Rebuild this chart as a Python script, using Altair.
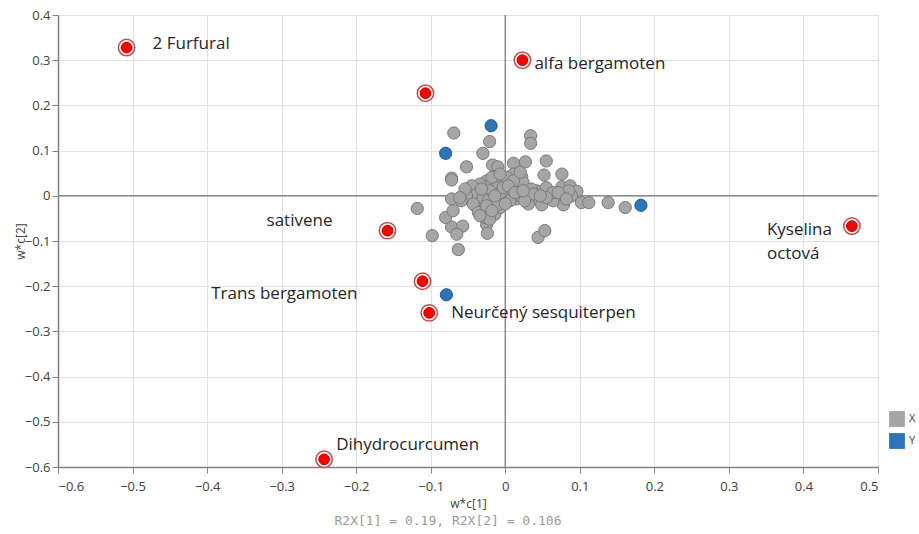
import altair as alt
import pandas as pd

# Loading-weight coordinates w*c[1], w*c[2] of the X variables (grey)
x_var_c1 = [-0.069, 0.034, 0.034, -0.021, -0.030, -0.052, -0.072, -0.017, -0.010, 0.011,
            0.027, 0.055, 0.052, 0.076, 0.011, 0.022, 0.076, 0.087, 0.096, 0.089,
            0.073, 0.078, 0.064, 0.102, 0.112, 0.138, 0.161, -0.118, -0.098, -0.063,
            -0.072, -0.057, -0.065, -0.080, -0.070, -0.072, -0.048, -0.038, -0.025, -0.024,
            -0.014, 0.044, 0.053, 0.040, 0.049, 0.031, 0.042, 0.006, -0.003, -0.012,
            -0.025, -0.034, -0.045, -0.038, -0.021, -0.007, 0.015, 0.024, 0.035, 0.055,
            0.064, 0.015, -0.016, -0.007, -0.030, -0.052, -0.059, -0.030, 0.002, 0.011,
            -0.027, -0.021, 0.038, 0.055, 0.006, 0.020, 0.026, -0.032, -0.023, -0.012,
            -0.003, 0.004, 0.013, -0.014, 0.000, -0.043, -0.054, 0.024, 0.047, 0.085,
            0.071, 0.082, -0.012, -0.018, -0.007, 0.020, -0.061, -0.036, -0.025, -0.034,
            -0.018, -0.072]
x_var_c2 = [0.139, 0.133, 0.116, 0.120, 0.094, 0.064, 0.039, 0.068, 0.064, 0.072,
            0.075, 0.077, 0.046, 0.048, 0.048, 0.042, 0.020, 0.022, 0.010, 0.000,
            -0.004, -0.020, -0.011, -0.015, -0.015, -0.015, -0.026, -0.028, -0.088, -0.119,
            -0.069, -0.067, -0.085, -0.048, -0.033, -0.007, -0.007, -0.026, -0.064, -0.083,
            -0.041, -0.092, -0.077, -0.007, -0.020, -0.018, 0.011, 0.004, -0.004, 0.026,
            0.033, 0.026, 0.022, 0.004, 0.011, 0.007, 0.018, 0.029, 0.015, 0.018,
            0.007, -0.007, -0.018, -0.026, -0.033, 0.000, -0.011, -0.004, 0.041, 0.033,
            -0.048, -0.052, 0.004, -0.004, -0.011, 0.000, -0.011, 0.015, -0.011, -0.022,
            0.018, 0.022, 0.007, 0.000, -0.018, -0.018, 0.015, 0.011, 0.000, 0.011,
            0.007, -0.007, 0.044, 0.041, 0.048, 0.052, -0.004, -0.037, -0.022, -0.044,
            -0.033, 0.035]

# Loading-weight coordinates of the Y responses (blue)
y_var_c1 = [-0.019, -0.080, 0.182, -0.079]
y_var_c2 = [0.155, 0.094, -0.021, -0.219]

# Highlighted compounds (red)
hl_names = ["2 Furfural", "alfa bergamoten", "", "Kyselina octová", "sativene",
            "Trans bergamoten", "Neurčený sesquiterpen", "Dihydrocurcumen"]
hl_c1 = [-0.508, 0.023, -0.107, 0.465, -0.158, -0.111, -0.102, -0.243]
hl_c2 = [0.328, 0.300, 0.227, -0.067, -0.077, -0.189, -0.259, -0.583]

footnote = "R2X[1] = 0.19, R2X[2] = 0.106"

points = pd.DataFrame({
    "c1": x_var_c1 + y_var_c1,
    "c2": x_var_c2 + y_var_c2,
    "type": ["X"] * len(x_var_c1) + ["Y"] * len(y_var_c1),
})
highlights = pd.DataFrame({"c1": hl_c1, "c2": hl_c2, "name": hl_names})

FONT = "Open Sans"
AXIS_GREY = "#808080"
TEXT_DARK = "#404040"

x_ticks = [round(-0.6 + 0.05 * i, 2) for i in range(23)]
y_ticks = [round(-0.6 + 0.05 * i, 2) for i in range(21)]
is_major = "abs(datum.value * 10 - round(datum.value * 10)) < 0.01"


def make_axis(values, title, **extra):
    return alt.Axis(
        values=values,
        title=title,
        labelExpr=f"{is_major} ? format(datum.value, '.1~f') : ''",
        tickSize={"condition": {"test": is_major, "value": 6}, "value": 3},
        gridOpacity={"condition": {"test": is_major, "value": 1}, "value": 0},
        grid=True,
        gridColor="#E0E0E0",
        gridWidth=1,
        domainColor=AXIS_GREY,
        domainWidth=1.5,
        tickColor=AXIS_GREY,
        tickWidth=1,
        labelColor=TEXT_DARK,
        labelFont=FONT,
        labelFontSize=13,
        labelOverlap=False,
        titleFont=FONT,
        titleFontSize=12,
        titleFontWeight="normal",
        titleColor=TEXT_DARK,
        **extra,
    )


x_enc = alt.X("c1:Q", scale=alt.Scale(domain=[-0.6, 0.5], nice=False, zero=False),
              axis=make_axis(x_ticks, "w*c[1]", labelPadding=7, titlePadding=5))
y_enc = alt.Y("c2:Q", scale=alt.Scale(domain=[-0.6, 0.4], nice=False, zero=False),
              axis=make_axis(y_ticks, "w*c[2]", labelPadding=2,
                             titleX=-31, titleY=226, titleAlign="center"))

base = alt.Chart(points)

# Origin cross-hair lines
zero_v = alt.Chart(pd.DataFrame({"c1": [0.0]})).mark_rule(
    color="#8C8C8C", strokeWidth=1.5).encode(x=alt.X("c1:Q"))
zero_h = alt.Chart(pd.DataFrame({"c2": [0.0]})).mark_rule(
    color="#8C8C8C", strokeWidth=1.5).encode(y=alt.Y("c2:Q"))

scatter = base.mark_point(shape="circle", filled=True, size=150, opacity=1,
                          strokeWidth=1).encode(
    x=x_enc,
    y=y_enc,
    color=alt.Color(
        "type:N",
        scale=alt.Scale(domain=["X", "Y"], range=["#A5A5A5", "#2E75B6"]),
        legend=alt.Legend(
            title=None, orient="none", legendX=831, legendY=396,
            symbolType="square", symbolSize=250, symbolStrokeWidth=0,
            symbolOpacity=1, labelFont=FONT, labelFontSize=11,
            labelColor=TEXT_DARK, rowPadding=6, labelOffset=4, padding=0,
        ),
    ),
    stroke=alt.Stroke(
        "type:N",
        scale=alt.Scale(domain=["X", "Y"], range=["#7A7A7A", "#25598A"]),
        legend=None,
    ),
    order=alt.Order("type:N"),
)

hl = alt.Chart(highlights)
ring = hl.mark_point(shape="circle", filled=True, size=270, fill="#FFF2F2",
                     stroke="#C0504D", strokeWidth=1.5, opacity=1).encode(
    x="c1:Q", y="c2:Q")
core = hl.mark_point(shape="circle", filled=True, size=115, fill="#FF0000",
                     stroke="#B00000", strokeWidth=1, opacity=1).encode(
    x="c1:Q", y="c2:Q")

# Label placement next to each highlighted compound: (dx, dy, align)
placement = {
    "2 Furfural": (26, -4, "left"),
    "alfa bergamoten": (12, 4, "left"),
    "Kyselina octová": (-85, -4, "left"),
    "sativene": (-55, -10, "right"),
    "Trans bergamoten": (-65, 13, "right"),
    "Neurčený sesquiterpen": (22, 0, "left"),
    "Dihydrocurcumen": (12, -14, "left"),
}

labels = []
for name, (dx, dy, align) in placement.items():
    two_lines = name == "Kyselina octová"
    labels.append(
        hl.transform_filter(alt.datum.name == name).mark_text(
            align=align, baseline="top" if two_lines else "middle",
            dx=dx, dy=dy,
            font=FONT, fontSize=17, color="#262626",
            lineBreak=" " if two_lines else "\n",
            lineHeight=24,
        ).encode(x="c1:Q", y="c2:Q", text="name:N")
    )

chart = alt.layer(zero_v, zero_h, scatter, ring, core, *labels).properties(
    width=820,
    height=452,
    padding={"left": 58, "top": 15, "right": 41, "bottom": 67},
    autosize=alt.AutoSizeParams(type="none"),
    title=alt.TitleParams(
        footnote, orient="bottom", anchor="middle", font="DejaVu Sans Mono",
        fontSize=13, fontWeight="normal", color="#999999", dx=-20, offset=6,
    ),
).configure_view(stroke=None).configure(background="white")

chart.save("out.html", embed_options={"renderer": "svg", "actions": False})
